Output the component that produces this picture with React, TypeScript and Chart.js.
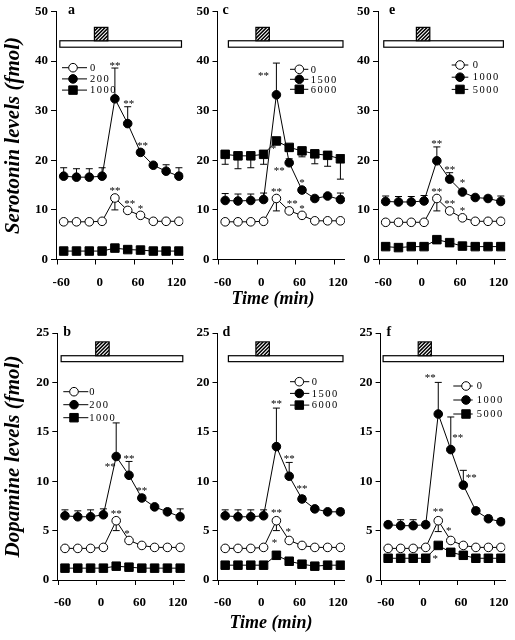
import React, { useEffect, useRef } from 'react';
import { Chart, registerables } from 'chart.js';

Chart.register(...registerables);

const FONT = "'Liberation Serif', 'Times New Roman', Times, serif";
const CW = 515;
const CH = 640;

// ---------- shared axes ----------
const TIMES = [-50, -30, -10, 10, 30, 50, 70, 90, 110, 130];
const X_TICKS = [-60, 0, 60, 120];
const SEROTONIN_TICKS = [0, 10, 20, 30, 40, 50];
const DOPAMINE_TICKS = [0, 5, 10, 15, 20, 25];
const X_MIN = -62;
const X_MAX = 137;

// ---------- panel a (serotonin) ----------
const A_DOSES = ['0', '200', '1000'];
const A_CTRL = [7.6, 7.6, 7.6, 7.7, 12.4, 9.9, 8.9, 7.7, 7.7, 7.7];
const A_LOW = [16.8, 16.6, 16.6, 16.8, 32.4, 27.4, 21.6, 19.0, 17.8, 16.8];
const A_HIGH = [1.7, 1.7, 1.7, 1.7, 2.3, 2.0, 1.9, 1.7, 1.7, 1.7];
const A_CTRL_ERR = [0, 0, 0, 0, -2.4, 0, 0, 0, 0, 0];
const A_LOW_ERR = [1.7, 1.7, 1.7, 1.7, 6.2, 3.4, 0.4, 0.3, 1.3, 1.7];
const A_HIGH_ERR = [0, 0, 0, 0, 0, 0, 0, 0, 0, 0];
const A_SIG = [[1, 4, '**', 0, 0], [1, 5, '**', 1, 0], [1, 6, '**', 2, 0], [0, 4, '**', 0, 0], [0, 5, '**', 2, 0], [0, 6, '*', 0, 0]];

// ---------- panel c (serotonin) ----------
const C_DOSES = ['0', '1500', '6000'];
const C_CTRL = [7.6, 7.6, 7.6, 7.7, 12.3, 9.8, 8.9, 7.8, 7.8, 7.8];
const C_LOW = [11.9, 11.8, 11.9, 12.1, 33.2, 19.5, 14.0, 12.3, 12.8, 12.1];
const C_HIGH = [21.2, 20.9, 20.9, 21.2, 23.9, 22.6, 21.9, 21.3, 21.0, 20.3];
const C_CTRL_ERR = [0, 0, 0, 0, -2.5, 0, 0, 0, 0, 0];
const C_LOW_ERR = [1.4, 1.4, 1.3, 1.3, 6.4, 0.8, 0.5, 0.4, 0.5, 1.3];
const C_HIGH_ERR = [-2.0, -2.6, -2.4, -2.0, 0, -0.8, -1.2, -2.0, -2.2, -4.1];
const C_SIG = [[1, 4, '**', -13, 15], [1, 5, '**', -10, 15], [1, 6, '*', 0, 0], [2, 4, '*', -3, 15], [0, 4, '**', 0, 0], [0, 5, '**', 3, 0], [0, 6, '*', 0, 0]];

// ---------- panel e (serotonin) ----------
const E_DOSES = ['0', '1000', '5000'];
const E_CTRL = [7.5, 7.5, 7.5, 7.5, 12.3, 9.8, 8.4, 7.7, 7.7, 7.7];
const E_LOW = [11.7, 11.6, 11.6, 11.8, 19.9, 16.2, 13.6, 12.5, 12.3, 11.7];
const E_HIGH = [2.6, 2.4, 2.6, 2.6, 4.0, 3.4, 2.7, 2.6, 2.6, 2.6];
const E_CTRL_ERR = [0, 0, 0, 0, -2.5, 0, 0, 0, 0, 0];
const E_LOW_ERR = [1.1, 1.1, 1.1, 1.1, 2.8, 1.3, 0.4, 0.3, 0.5, 1.1];
const E_HIGH_ERR = [0, 0, 0, 0, 0, 0, 0, 0, 0, 0];
const E_SIG = [[1, 4, '**', 0, 0], [1, 5, '**', 0, 0], [1, 6, '*', 0, -2], [0, 4, '**', 0, 0], [0, 5, '**', 0, 0], [0, 6, '*', 0, 0]];

// ---------- panel b (dopamine) ----------
const B_DOSES = ['0', '200', '1000'];
const B_CTRL = [3.2, 3.2, 3.2, 3.3, 6.0, 4.0, 3.5, 3.3, 3.3, 3.3];
const B_LOW = [6.5, 6.4, 6.4, 6.6, 12.5, 10.6, 8.3, 7.4, 6.9, 6.4];
const B_HIGH = [1.2, 1.2, 1.2, 1.2, 1.4, 1.3, 1.2, 1.2, 1.2, 1.2];
const B_CTRL_ERR = [0, 0, 0, 0, -1.0, 0, 0, 0, 0, 0];
const B_LOW_ERR = [0.6, 0.6, 0.7, 0.6, 3.4, 1.4, 0.3, 0.2, 0.3, 0.8];
const B_HIGH_ERR = [0, 0, 0, 0, 0, 0, 0, 0, 0, 0];
const B_SIG = [[1, 4, '**', -6, 47], [1, 5, '**', 0, 0], [1, 6, '**', 0, 0], [0, 4, '**', 0, 0], [0, 5, '*', -2, 0]];

// ---------- panel d (dopamine) ----------
const D_DOSES = ['0', '1500', '6000'];
const D_CTRL = [3.2, 3.2, 3.2, 3.3, 6.0, 4.0, 3.5, 3.3, 3.3, 3.3];
const D_LOW = [6.5, 6.4, 6.4, 6.5, 13.5, 10.5, 8.2, 7.2, 6.9, 6.9];
const D_HIGH = [1.5, 1.5, 1.5, 1.5, 2.5, 1.9, 1.6, 1.4, 1.5, 1.5];
const D_CTRL_ERR = [0, 0, 0, 0, -1.0, 0, 0, 0, 0, 0];
const D_LOW_ERR = [0.6, 0.7, 0.7, 0.6, 3.9, 1.4, 0.3, 0.2, 0.2, 0.3];
const D_HIGH_ERR = [0, 0, 0, 0, 0, 0, 0, 0, 0, 0];
const D_SIG = [[1, 4, '**', 0, -2], [1, 5, '**', 0, -1], [1, 6, '**', 0, -3], [0, 4, '**', 0, -1], [0, 5, '*', -1, -2], [2, 4, '*', -2, -6]];

// ---------- panel f (dopamine) ----------
const F_DOSES = ['0', '1000', '5000'];
const F_CTRL = [3.2, 3.2, 3.2, 3.3, 6.0, 4.0, 3.5, 3.3, 3.3, 3.3];
const F_LOW = [5.6, 5.5, 5.5, 5.6, 16.8, 13.2, 9.6, 7.0, 6.2, 5.9];
const F_HIGH = [2.2, 2.2, 2.2, 2.2, 3.5, 2.8, 2.5, 2.2, 2.2, 2.2];
const F_CTRL_ERR = [0, 0, 0, 0, -1.1, 0, 0, 0, 0, 0];
const F_LOW_ERR = [0.3, 0.6, 0.6, 0.3, 3.2, 3.3, 1.5, 0.3, 0.3, 0.3];
const F_HIGH_ERR = [0, 0, 0, 0, 0, 0, 0, 0, 0, 0];
const F_SIG = [[1, 4, '**', -8, -2], [1, 5, '**', 7, 24], [1, 6, '**', 8, 10], [0, 4, '**', 0, -2], [0, 5, '*', -2, -3], [2, 4, '*', -3, 20]];

// ---------- perfusion bars (time, level units) ----------
const HATCH_TIME = [-2, 19];
const BAR_END = 134;
const SEROTONIN_BAR = [42.8, 44.1, 46.8];
const DOPAMINE_BAR = [22.1, 22.7, 24.1];

const Y_TITLE_5HT = 'Serotonin levels (fmol)';
const Y_TITLE_DA = 'Dopamine levels (fmol)';
const X_TITLE = 'Time (min)';

// ---------- layout (pixels) ----------
const AREA_W = 127.4;
const XH = 40;
const TOP_AREA = { t: 11.5, b: 259.5 };
const BOT_AREA = { t: 333, b: 580 };

const PANELS = [
  { id: 'a', l: 56, ...TOP_AREA, ticks: SEROTONIN_TICKS, doses: A_DOSES, vals: [A_CTRL, A_LOW, A_HIGH], errs: [A_CTRL_ERR, A_LOW_ERR, A_HIGH_ERR], sig: A_SIG, barLevels: SEROTONIN_BAR, barStart: -56, yTitle: Y_TITLE_5HT, legend: { x: 62, y: 67.7, dy: 11.2, len: 25, mx: 11, tx: 90 }, letterDx: 12 },
  { id: 'c', l: 217.5, ...TOP_AREA, ticks: SEROTONIN_TICKS, doses: C_DOSES, vals: [C_CTRL, C_LOW, C_HIGH], errs: [C_CTRL_ERR, C_LOW_ERR, C_HIGH_ERR], sig: C_SIG, barLevels: SEROTONIN_BAR, barStart: -45, xTitle: { x: 273, y: 299 }, legend: { x: 290, y: 69.3, dy: 10, len: 18.3, mx: 9.3, tx: 310.7 }, letterDx: 5 },
  { id: 'e', l: 378, ...TOP_AREA, ticks: SEROTONIN_TICKS, doses: E_DOSES, vals: [E_CTRL, E_LOW, E_HIGH], errs: [E_CTRL_ERR, E_LOW_ERR, E_HIGH_ERR], sig: E_SIG, barLevels: SEROTONIN_BAR, barStart: -53, legend: { x: 451.7, y: 65, dy: 12.2, len: 16.6, mx: 8.3, tx: 472.7 }, letterDx: 11 },
  { id: 'b', l: 57.3, ...BOT_AREA, ticks: DOPAMINE_TICKS, doses: B_DOSES, vals: [B_CTRL, B_LOW, B_HIGH], errs: [B_CTRL_ERR, B_LOW_ERR, B_HIGH_ERR], sig: B_SIG, barLevels: DOPAMINE_BAR, barStart: -56, yTitle: Y_TITLE_DA, legend: { x: 63.3, y: 391.7, dy: 13, len: 25, mx: 10.7, tx: 89.3 }, letterDx: 6 },
  { id: 'd', l: 217.5, ...BOT_AREA, ticks: DOPAMINE_TICKS, doses: D_DOSES, vals: [D_CTRL, D_LOW, D_HIGH], errs: [D_CTRL_ERR, D_LOW_ERR, D_HIGH_ERR], sig: D_SIG, barLevels: DOPAMINE_BAR, barStart: -45, xTitle: { x: 271, y: 623 }, legend: { x: 290, y: 381.7, dy: 11.7, len: 19.3, mx: 9.3, tx: 311.7 }, letterDx: 5 },
  { id: 'f', l: 380.6, ...BOT_AREA, ticks: DOPAMINE_TICKS, doses: F_DOSES, vals: [F_CTRL, F_LOW, F_HIGH], errs: [F_CTRL_ERR, F_LOW_ERR, F_HIGH_ERR], sig: F_SIG, barLevels: DOPAMINE_BAR, barStart: -58, legend: { x: 453.3, y: 386, dy: 14, len: 19.4, mx: 12.7, tx: 476.7 }, letterDx: 6 },
];

const CIRCLE_R = 4.3;
const RECT_R = 6;

function drawMarker(ctx: CanvasRenderingContext2D, style: string, x: number, y: number, r: number, fill: string) {
  ctx.beginPath();
  if (style === 'rect') {
    const h = r * Math.SQRT1_2;
    ctx.rect(x - h, y - h, 2 * h, 2 * h);
  } else {
    ctx.arc(x, y, r, 0, Math.PI * 2);
  }
  ctx.fillStyle = fill;
  ctx.fill();
  ctx.lineWidth = 1;
  ctx.strokeStyle = '#000';
  ctx.stroke();
}

function makeDecor(p: any) {
  return {
    id: 'decor-' + p.id,
    beforeDatasetsDraw(chart: any) {
      const { ctx } = chart;
      const xs = chart.scales.x;
      const ys = chart.scales.y;
      ctx.save();
      ctx.strokeStyle = '#000';
      ctx.lineWidth = 1;
      chart.data.datasets.forEach((ds: any) => {
        const err = ds.err;
        if (!err) return;
        ds.data.forEach((pt: any, i: number) => {
          const e = err[i];
          if (!e) return;
          const x = xs.getPixelForValue(pt.x);
          const y0 = ys.getPixelForValue(pt.y);
          const y1 = ys.getPixelForValue(pt.y + e);
          ctx.beginPath();
          ctx.moveTo(x, y0);
          ctx.lineTo(x, y1);
          ctx.moveTo(x - 3.5, y1);
          ctx.lineTo(x + 3.5, y1);
          ctx.stroke();
        });
      });
      ctx.restore();
    },
    afterDatasetsDraw(chart: any) {
      const { ctx, chartArea } = chart;
      const xs = chart.scales.x;
      const ys = chart.scales.y;
      ctx.save();

      // perfusion bar (white) and drug box (hatched)
      const [lo, mid, hi] = p.barLevels;
      const bx0 = xs.getPixelForValue(p.barStart);
      const bx1 = xs.getPixelForValue(BAR_END);
      const by0 = ys.getPixelForValue(mid);
      const by1 = ys.getPixelForValue(lo);
      ctx.fillStyle = '#fff';
      ctx.fillRect(bx0, by0, bx1 - bx0, by1 - by0);
      ctx.strokeStyle = '#000';
      ctx.lineWidth = 1.2;
      ctx.strokeRect(bx0, by0, bx1 - bx0, by1 - by0);

      const hx0 = xs.getPixelForValue(HATCH_TIME[0]);
      const hx1 = xs.getPixelForValue(HATCH_TIME[1]);
      const hy0 = ys.getPixelForValue(hi);
      const hy1 = ys.getPixelForValue(mid);
      const hw = hx1 - hx0;
      const hh = hy1 - hy0;
      ctx.fillStyle = '#fff';
      ctx.fillRect(hx0, hy0, hw, hh);
      ctx.save();
      ctx.beginPath();
      ctx.rect(hx0, hy0, hw, hh);
      ctx.clip();
      ctx.beginPath();
      ctx.lineWidth = 1.5;
      for (let k = -hh; k < hw + hh; k += 3.6) {
        ctx.moveTo(hx0 + k, hy1);
        ctx.lineTo(hx0 + k + hh, hy0);
      }
      ctx.stroke();
      ctx.restore();
      ctx.lineWidth = 1.2;
      ctx.strokeRect(hx0, hy0, hw, hh);

      // significance asterisks
      const sfs = 11;
      ctx.font = `${sfs}px ${FONT}`;
      ctx.fillStyle = '#000';
      ctx.textAlign = 'center';
      ctx.textBaseline = 'alphabetic';
      p.sig.forEach((s: any) => {
        const [si, idx, text, dx, dy] = s;
        const ds = chart.data.datasets[si];
        const pt = ds.data[idx];
        const x = xs.getPixelForValue(pt.x);
        const y = ys.getPixelForValue(pt.y);
        const half = ds.pointStyle === 'rect' ? ds.pointRadius * Math.SQRT1_2 : ds.pointRadius;
        let top = y - half;
        const e = ds.err ? ds.err[idx] : 0;
        if (e > 0) top = Math.min(top, ys.getPixelForValue(pt.y + e));
        const cy = top - 5 + dy;
        ctx.fillText(text, x + dx, cy + 0.5 * sfs);
      });

      // legend
      const lg = p.legend;
      ctx.textAlign = 'left';
      ctx.textBaseline = 'middle';
      ctx.font = `10.5px ${FONT}`;
      (ctx as any).letterSpacing = '1.5px';
      chart.data.datasets.forEach((ds: any, k: number) => {
        const ly = lg.y + k * lg.dy;
        ctx.beginPath();
        ctx.strokeStyle = '#000';
        ctx.lineWidth = 1;
        ctx.moveTo(lg.x, ly);
        ctx.lineTo(lg.x + lg.len, ly);
        ctx.stroke();
        drawMarker(ctx, ds.pointStyle, lg.x + lg.mx, ly, ds.pointRadius, ds.pointBackgroundColor);
        ctx.fillStyle = '#000';
        ctx.fillText(ds.label, lg.tx, ly + 0.5);
      });
      (ctx as any).letterSpacing = '0px';

      // panel letter
      ctx.font = `bold 14px ${FONT}`;
      ctx.textBaseline = 'alphabetic';
      ctx.textAlign = 'left';
      ctx.fillStyle = '#000';
      ctx.fillText(p.id, chartArea.left + p.letterDx, chartArea.top + 2.5);

      // shared x-axis title
      if (p.xTitle) {
        ctx.font = `italic bold 18px ${FONT}`;
        ctx.textAlign = 'center';
        ctx.textBaseline = 'middle';
        ctx.fillText(X_TITLE, p.xTitle.x, p.xTitle.y);
      }
      ctx.restore();
    },
  };
}

function buildConfig(p: any) {
  const styles = [
    { pointStyle: 'circle', pointRadius: CIRCLE_R, bg: '#fff' },
    { pointStyle: 'circle', pointRadius: CIRCLE_R, bg: '#000' },
    { pointStyle: 'rect', pointRadius: RECT_R, bg: '#000' },
  ];
  const datasets = p.vals.map((vals: number[], k: number) => ({
    label: p.doses[k],
    data: TIMES.map((t, i) => ({ x: t, y: vals[i] })),
    err: p.errs[k],
    borderColor: '#000',
    borderWidth: 1,
    pointStyle: styles[k].pointStyle,
    pointRadius: styles[k].pointRadius,
    pointBackgroundColor: styles[k].bg,
    pointBorderColor: '#000',
    pointBorderWidth: 1,
    tension: 0,
    fill: false,
  }));
  const yMax = p.ticks[p.ticks.length - 1];
  const tickFont = { family: FONT, size: 13, weight: 'bold' };
  return {
    type: 'line',
    data: { datasets },
    options: {
      responsive: false,
      animation: false,
      events: [],
      layout: { padding: { left: 0, top: p.t, right: CW - (p.l + AREA_W), bottom: CH - p.b - XH } },
      plugins: { legend: { display: false }, tooltip: { enabled: false }, title: { display: false } },
      scales: {
        x: {
          type: 'linear',
          min: X_MIN,
          max: X_MAX,
          afterBuildTicks: (s: any) => { s.ticks = X_TICKS.map((v) => ({ value: v })); },
          afterFit: (s: any) => { s.height = XH; },
          grid: { display: true, drawOnChartArea: false, drawTicks: true, tickLength: 5, color: '#000', lineWidth: 1 },
          border: { display: true, color: '#000', width: 1 },
          ticks: { font: tickFont, color: '#000', padding: 10, labelOffset: 4, maxRotation: 0, autoSkip: false, callback: (v: any) => String(v) },
        },
        y: {
          type: 'linear',
          min: 0,
          max: yMax,
          afterBuildTicks: (s: any) => { s.ticks = p.ticks.map((v: number) => ({ value: v })); },
          afterFit: (s: any) => { s.width = p.l; },
          grid: { display: true, drawOnChartArea: false, drawTicks: true, tickLength: 5, color: '#000', lineWidth: 1 },
          border: { display: true, color: '#000', width: 1 },
          ticks: { font: tickFont, color: '#000', padding: 3, callback: (v: any) => String(v) },
          title: p.yTitle
            ? { display: true, text: p.yTitle, color: '#000', font: { family: FONT, size: 21, weight: 'bold', style: 'italic' }, padding: { top: 1, bottom: 0 } }
            : { display: false },
        },
      },
    },
    plugins: [makeDecor(p)],
  };
}

function Panel({ p }: { p: any }) {
  const ref = useRef<HTMLCanvasElement | null>(null);
  useEffect(() => {
    if (!ref.current) return;
    const chart = new Chart(ref.current, buildConfig(p) as any);
    return () => chart.destroy();
  }, [p]);
  return <canvas ref={ref} width={CW} height={CH} style={{ position: 'absolute', left: 0, top: 0 }} />;
}

export default function App() {
  return (
    <div style={{ position: 'fixed', left: 0, top: 0, width: CW, height: CH, background: '#fff', overflow: 'hidden' }}>
      {PANELS.map((p) => (
        <Panel key={p.id} p={p} />
      ))}
    </div>
  );
}
